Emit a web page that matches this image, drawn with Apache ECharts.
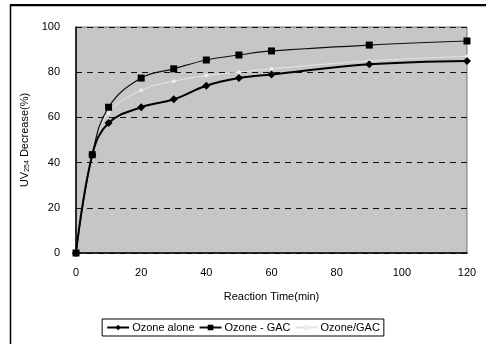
<!DOCTYPE html>
<html><head><meta charset="utf-8">
<script src="https://cdn.jsdelivr.net/npm/echarts@6/dist/echarts.min.js"></script>
<style>html,body{margin:0;padding:0;background:#fff}#c{width:486px;height:344px}</style>
</head><body><div id="c"></div>
<script>
var times = [0, 5, 10, 20, 30, 40, 50, 60, 90, 120];
var ozoneAlone = [0, 43.5, 57.5, 64.5, 68, 74, 77.4, 79, 83.5, 85];
var ozoneGAC = [0, 43.5, 64.5, 77.4, 81.5, 85.4, 87.6, 89.4, 92, 93.8];
var ozoneSlashGAC = [0, 44, 62, 72, 76, 78.5, 80, 81.5, 85, 87];
var xTicks = [0, 20, 40, 60, 80, 100, 120];
var yTicks = [0, 20, 40, 60, 80, 100];
var seriesNames = ['Ozone alone', 'Ozone - GAC', 'Ozone/GAC'];

function pairs(arr){ return times.map(function(t,i){ return [t, arr[i]]; }); }

var chart = echarts.init(document.getElementById('c'));
var font = 'Liberation Sans, Arial, sans-serif';
chart.setOption({
  animation: false,
  backgroundColor: '#fff',
  graphic: [
    {type:'rect', shape:{x:10.5, y:5.5, width:480, height:345}, style:{fill:'none', stroke:'#000', lineWidth:1.5}, z:-1},
    {type:'line', shape:{x1:10, y1:5, x2:486, y2:5}, style:{stroke:'#000', lineWidth:2}}
  ],
  grid: {left: 76, right: 19, top: 27, bottom: 91, show: true, backgroundColor: '#c6c6c6', borderColor: '#777', borderWidth: 1},
  legend: {
    data: seriesNames,
    bottom: 8, left: 'center',
    itemGap: 4, itemWidth: 22, itemHeight: 7,
    padding: [3, 4, 3, 4],
    borderColor: '#000', borderWidth: 1, borderRadius: 0,
    textStyle: {fontFamily: font, fontSize: 11, color: '#000', padding: [0, 0, 0, -2]}
  },
  xAxis: {
    type: 'value', min: 0, max: 120, interval: 20,
    name: 'Reaction Time(min)', nameLocation: 'middle', nameGap: 38,
    nameTextStyle: {fontFamily: font, fontSize: 11, color: '#000'},
    axisLine: {show: true, lineStyle: {color: '#000', width: 1.5}},
    axisTick: {show: false},
    axisLabel: {fontFamily: font, fontSize: 11, color: '#000', margin: 14},
    splitLine: {show: false}
  },
  yAxis: {
    type: 'value', min: 0, max: 100, interval: 20,
    name: '{a|UV}{s|254}{a| Decrease(%)}', nameLocation: 'middle', nameGap: 34, nameRotate: 90,
    nameTextStyle: {rich: {a: {fontFamily: font, fontSize: 11, color: '#000'}, s: {fontFamily: font, fontSize: 7, color: '#000', verticalAlign: 'bottom', padding:[4,0,0,0]}}},
    axisLine: {show: true, lineStyle: {color: '#000', width: 1.5}},
    axisTick: {show: false},
    axisLabel: {fontFamily: font, fontSize: 11, color: '#000', margin: 16},
    splitLine: {show: true, lineStyle: {color: '#111', type: [6, 5], width: 1.2}}
  },
  series: [
    {name: seriesNames[2], type: 'line', smooth: 0.4, data: pairs(ozoneSlashGAC),
     symbol: 'circle', symbolSize: 4, lineStyle: {color: '#e4e4e4', width: 1},
     itemStyle: {color: '#ececec'}, z: 1},
    {name: seriesNames[1], type: 'line', smooth: 0.4, data: pairs(ozoneGAC),
     symbol: 'rect', symbolSize: 7, lineStyle: {color: '#111', width: 1.2},
     itemStyle: {color: '#000'}, z: 2},
    {name: seriesNames[0], type: 'line', smooth: 0.4, data: pairs(ozoneAlone),
     symbol: 'diamond', symbolSize: 8, lineStyle: {color: '#000', width: 2},
     itemStyle: {color: '#000'}, z: 3}
  ]
});
</script></body></html>
